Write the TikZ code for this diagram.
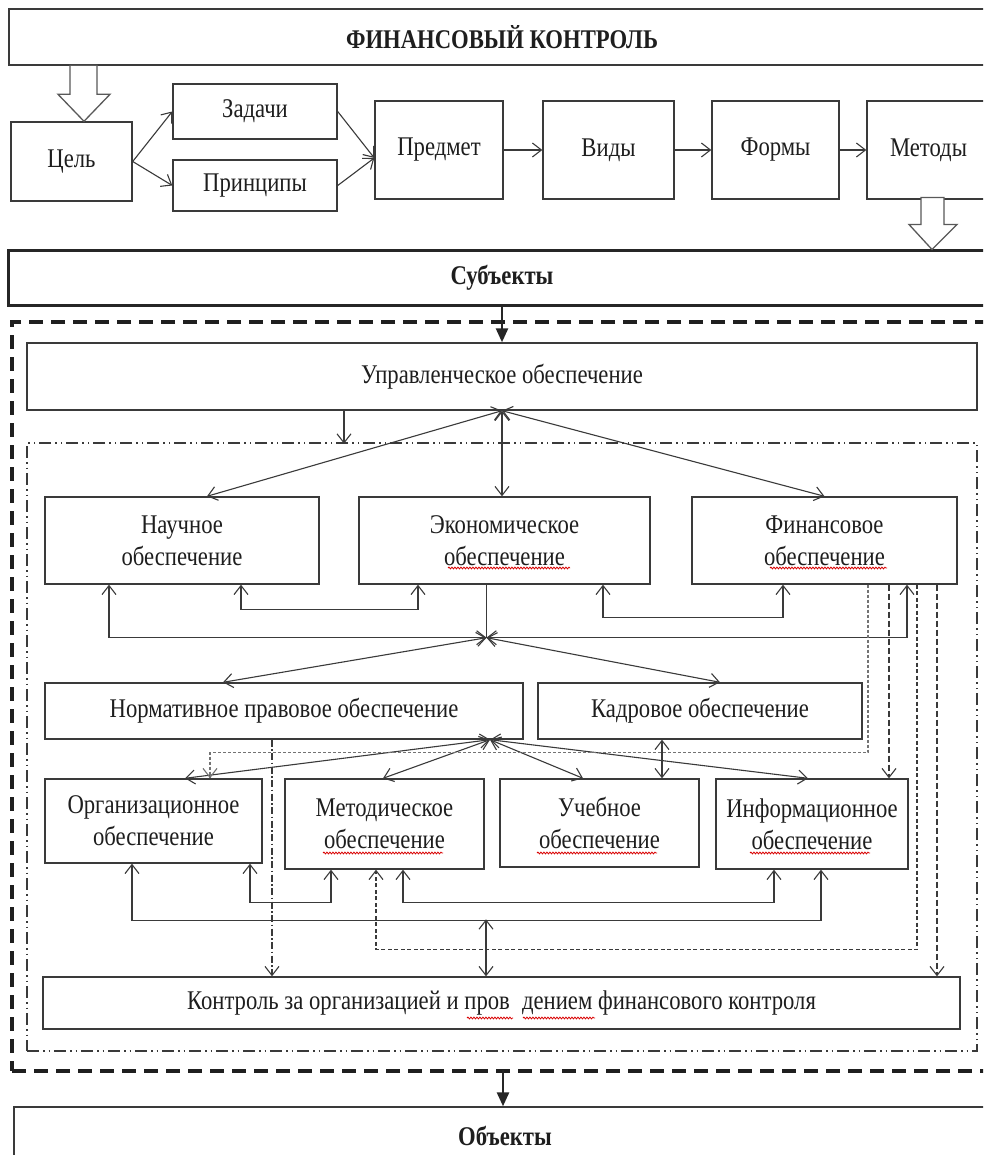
\documentclass[tikz,border=0pt]{standalone}
\usepackage{fontspec}
\setmainfont{Liberation Serif}[FakeStretch=0.84]
\usetikzlibrary{arrows.meta,decorations.pathmorphing,calc}
\definecolor{ln}{HTML}{3A3A3A}
\definecolor{tx}{HTML}{1E1E1E}
\begin{document}
\begin{tikzpicture}[x=1pt,y=-1pt,
  box/.style={draw=ln, line width=1.4pt, rectangle, inner sep=0pt, align=center,
    text=tx, font=\fontsize{27}{32}\selectfont},
  bbox/.style={box, font=\fontsize{27}{32}\selectfont\bfseries},
  ar/.style={draw=ln, line width=1.1pt, -{Straight Barb[length=9pt,width=14pt]}},
  dar/.style={draw=ln, line width=1.1pt, {Straight Barb[length=9pt,width=14pt]}-{Straight Barb[length=9pt,width=14pt]}},
  fa/.style={draw=black!85, line width=2.6pt, -{Triangle[length=14pt,width=12pt]}},
  hollow/.style={draw=black!65, line width=1.3pt, fill=white, line join=miter},
  gdot/.style={draw=black!55, line width=1.1pt, dash pattern=on 3pt off 2pt},
  dsh/.style={draw=ln, line width=1.1pt, dash pattern=on 6pt off 3pt},
  dsh2/.style={draw=ln, line width=1.1pt, dash pattern=on 4pt off 2.5pt},
  ddot/.style={draw=ln, line width=1.1pt, dash pattern=on 7pt off 2.5pt on 1.5pt off 2.5pt},
  squig/.style={draw=red!85!black, line width=0.8pt, decorate,
    decoration={snake, amplitude=0.9pt, segment length=3pt}}]
\useasboundingbox (0,0) rectangle (983,1155);
\fill[white] (0,0) rectangle (983,1155);
\clip (0,0) rectangle (983,1155);

% ---- top row ----
\node[bbox, minimum width=986, minimum height=56] (top) at (502,37) {ФИНАНСОВЫЙ КОНТРОЛЬ};
\node[box, minimum width=121, minimum height=79] (cel) at (71.5,161.5) {Цель};
\node[box, minimum width=164, minimum height=55] (zad) at (255,111.5) {Задачи};
\node[box, minimum width=164, minimum height=51] (pri) at (255,185.5) {Принципы};
\node[box, minimum width=128, minimum height=98] (pred) at (439,150) {Предмет};
\node[box, minimum width=131, minimum height=98] (vid) at (608.5,150) {Виды};
\node[box, minimum width=127, minimum height=98] (form) at (775.5,150) {Формы};
\node[box, minimum width=123, minimum height=98] (met) at (928.5,150) {Методы};

\draw[ar] (cel.east) -- (zad.west);
\draw[ar] (cel.east) -- (pri.west);
\draw[ar] (zad.east) -- ($(pred.west)+(0,8)$);
\draw[ar] (pri.east) -- ($(pred.west)+(0,8)$);
\draw[ar] (pred.east) -- (vid.west);
\draw[ar] (vid.east) -- (form.west);
\draw[ar] (form.east) -- (met.west);

% hollow arrows
\draw[hollow] ($(cel.north)+(12.5,0)$) -- ++(26,-27) -- ++(-13,0) -- ++(0,-29)
  -- ++(-27,0) -- ++(0,29) -- ++(-12,0) -- cycle;

\node[bbox, line width=3pt, draw=black!85, minimum width=988, minimum height=54] (subj) at (502,278) {Субъекты};

\draw[hollow] ($(subj.north)+(430,0)$) -- ++(25,-25) -- ++(-13,0) -- ++(0,-27)
  -- ++(-23,0) -- ++(0,27) -- ++(-12,0) -- cycle;

% ---- frames ----
\node[draw=black!88, line width=3.6pt, dash pattern=on 14pt off 8pt, minimum width=983, minimum height=749, inner sep=0pt] (outer) at (503.5,696.5) {};
\node[draw=ln, line width=1.3pt, dash pattern=on 12pt off 4pt on 1.5pt off 4pt on 1.5pt off 4pt, minimum width=950, minimum height=608, inner sep=0pt] (inner) at (502,747) {};

\node[box, minimum width=950, minimum height=67] (upr) at (502,376.5) {Управленческое обеспечение};
\draw[fa] (subj.south) -- (upr.north);

\node[box, minimum width=274, minimum height=87] (nauch) at (182,540.5) {Научное\\обеспечение};
\node[box, minimum width=291, minimum height=87] (econ) at (504.5,540.5) {Экономическое\\обеспечение};
\node[box, minimum width=265, minimum height=87] (fin) at (824.5,540.5) {Финансовое\\обеспечение};

\node[box, minimum width=478, minimum height=56] (norm) at (284,711) {Нормативное правовое обеспечение};
\node[box, minimum width=324, minimum height=56] (kadr) at (700,711) {Кадровое обеспечение};

\node[box, minimum width=217, minimum height=84] (org) at (153.5,821) {Организационное\\обеспечение};
\node[box, minimum width=199, minimum height=90] (metod) at (384.5,824) {Методическое\\обеспечение};
\node[box, minimum width=199, minimum height=88] (ucheb) at (599.5,823) {Учебное\\обеспечение};
\node[box, minimum width=192, minimum height=90] (inform) at (812,824) {Информационное\\обеспечение};

\node[box, minimum width=917, minimum height=52] (kontr) at (501.5,1003) {Контроль за организацией и пров\hspace{0.45em}дением финансового контроля};

\node[bbox, minimum width=982, minimum height=58] (obj) at (505,1136) {Объекты};
\draw[fa] ($(obj.north)+(-2,-36)$) -- ($(obj.north)+(-2,0)$);

% ---- hub 1 ----
\draw[ar] ($(upr.south)+(-158,0)$) -- ($(upr.south)+(-158,33)$);
\draw[dar] (upr.south) -- ($(nauch.north)+(25,0)$);
\draw[dar] (upr.south) -- (upr.south |- econ.north);
\draw[dar] (upr.south) -- (fin.north);

% ---- hub 2 ----
\coordinate (hubB) at ($(econ.south)+(-18,53)$);
\draw[draw=ln, line width=1.1pt] (econ.south -| hubB) -- (hubB);
\draw[dar] ($(nauch.south)+(-73,0)$) |- (hubB);
\draw[dar] ($(fin.south)+(82.5,0)$) |- (hubB);
\draw[dar] (hubB) -- ($(norm.north)+(-61,0)$);
\draw[dar] (hubB) -- ($(kadr.north)+(20,0)$);
\draw[dar] ($(nauch.south)+(59,0)$) -- ++(0,25) -| ($(econ.south)+(-86.5,0)$);
\draw[dar] ($(econ.south)+(98.5,0)$) -- ++(0,33) -| ($(fin.south)+(-41.5,0)$);

% ---- hub 3 ----
\coordinate (hubC) at ($(norm.south)+(206,0)$);
\draw[dar] (hubC) -- ($(org.north)+(31.5,0)$);
\draw[dar] (hubC) -- ($(metod.north)+(-1.5,0)$);
\draw[dar] (hubC) -- ($(ucheb.north)+(-16.5,0)$);
\draw[dar] (hubC) -- ($(inform.north)+(-4,0)$);
\draw[dar] ($(kadr.south)+(-38,0)$) -- ($(ucheb.north)+(62.5,0)$);

% ---- dashed links from Финансовое ----
\draw[gdot, -{Straight Barb[length=9pt,width=14pt]}] ($(fin.south)+(43.5,0)$) |- ($(org.north)+(56.5,-26)$) -- ($(org.north)+(56.5,0)$);
\draw[dsh, -{Straight Barb[length=9pt,width=14pt]}] ($(fin.south)+(64.5,0)$) -- ($(inform.north)+(77,0)$);
\draw[dsh2, -{Straight Barb[length=9pt,width=14pt]}] ($(fin.south)+(92.5,0)$) |- ($(metod.south)+(-8.5,80)$) -- ($(metod.south)+(-8.5,0)$);
\draw[dsh, -{Straight Barb[length=9pt,width=14pt]}] ($(fin.south)+(112.5,0)$) -- ($(kontr.north)+(435.5,0)$);
\draw[ddot, -{Straight Barb[length=9pt,width=14pt]}] ($(norm.south)+(-12,0)$) -- ($(kontr.north)+(-229.5,0)$);

% ---- bottom links ----
\draw[dar] ($(org.south)+(96.5,0)$) -- ++(0,39) -| ($(metod.south)+(-53.5,0)$);
\draw[dar] ($(org.south)+(-21.5,0)$) -- ++(0,57) -| ($(inform.south)+(9,0)$);
\draw[dar] ($(metod.south)+(18.5,0)$) -- ++(0,33) -| ($(inform.south)+(-38,0)$);
\coordinate (kj) at ($(kontr.north)+(-15.5,-57)$);
\draw[dar] (kj) -- ($(kontr.north)+(-15.5,0)$);

% ---- spell-check squiggles ----
\draw[squig] (448,568) -- (570,568);
\draw[squig] (770,568) -- (887,568);
\draw[squig] (323,853) -- (443,853);
\draw[squig] (537,853) -- (657,853);
\draw[squig] (750,853) -- (870,853);
\draw[squig] (467,1018) -- (513,1018);
\draw[squig] (523,1018) -- (595,1018);
\end{tikzpicture}
\end{document}
